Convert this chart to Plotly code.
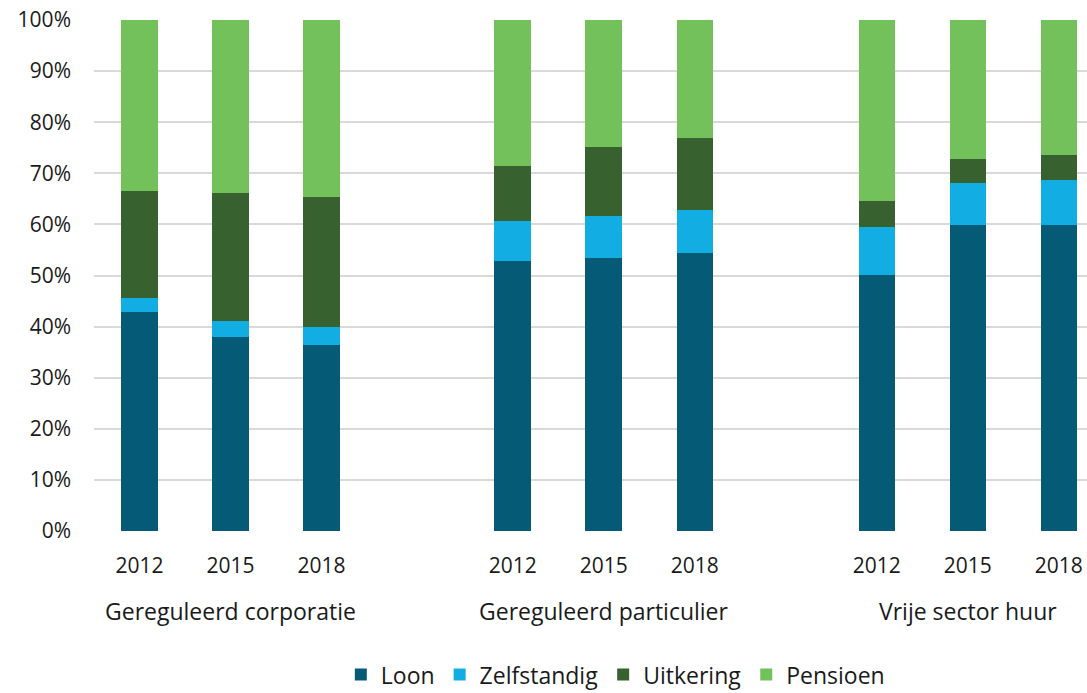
import plotly.graph_objects as go

groups = ["Gereguleerd corporatie", "Gereguleerd particulier", "Vrije sector huur"]
years = ["2012", "2015", "2018"]
series = ["Loon", "Zelfstandig", "Uitkering", "Pensioen"]

# shares (%), order: groups x years
loon = [42.8, 38.0, 36.4, 52.8, 53.5, 54.5, 50.1, 59.8, 59.8]
zelfstandig = [2.8, 3.0, 3.5, 7.8, 8.2, 8.3, 9.4, 8.4, 8.9]
uitkering = [21.0, 25.2, 25.5, 10.8, 13.4, 14.2, 5.0, 4.6, 4.8]
pensioen = [33.4, 33.8, 34.6, 28.6, 24.9, 23.0, 35.5, 27.2, 26.5]

colors = ["#055a75", "#12ade2", "#386130", "#73c15a"]

group_offset = [0, 4.1, 8.1]
xpos = [group_offset[g] + i for g in range(3) for i in range(3)]
ticktext = [y for g in range(3) for y in years]

fig = go.Figure()
for name, vals, col in zip(series, [loon, zelfstandig, uitkering, pensioen], colors):
    fig.add_trace(go.Bar(
        x=xpos, y=vals, name=name, marker=dict(color=col, line=dict(width=0)),
        width=0.4, hoverinfo="skip"))

font_family = "Open Sans, Lato, sans-serif"
txt = "#1a1a1a"

annotations = []
for g, name in enumerate(groups):
    annotations.append(dict(
        x=group_offset[g] + 1, y=-0.157, xref="x", yref="paper",
        text=name, showarrow=False, yanchor="middle", xanchor="center",
        font=dict(size=23, color=txt, family=font_family)))

fig.update_layout(
    barmode="stack",
    width=1087, height=693,
    margin=dict(l=94, r=0, t=20, b=162, autoexpand=False),
    plot_bgcolor="white", paper_bgcolor="white",
    font=dict(family=font_family, size=20, color=txt),
    showlegend=True,
    legend=dict(orientation="h", x=0.525, xanchor="center", y=-0.281, yanchor="middle",
                font=dict(size=23, color=txt), traceorder="normal",
                itemclick=False),
    annotations=annotations,
    xaxis=dict(range=[-0.5, 10.41], tickmode="array", tickvals=xpos, ticktext=ticktext,
               showgrid=False, zeroline=False, showline=False, ticks="", automargin=False,
               ticklabelstandoff=20, tickfont=dict(size=21, color=txt)),
    yaxis=dict(range=[0, 100], tickmode="array", tickvals=list(range(0, 101, 10)),
               ticktext=[f"{v}%" for v in range(0, 101, 10)],
               showgrid=True, gridcolor="#d9d9d9", gridwidth=1.5, automargin=False,
               zeroline=False, showline=False, ticks="",
               ticklabelstandoff=22, tickfont=dict(size=21, color=txt)),
)

fig.write_html("out.html", config={"displayModeBar": False},
               post_script="document.body.style.margin='0';document.body.style.overflow='hidden';")
